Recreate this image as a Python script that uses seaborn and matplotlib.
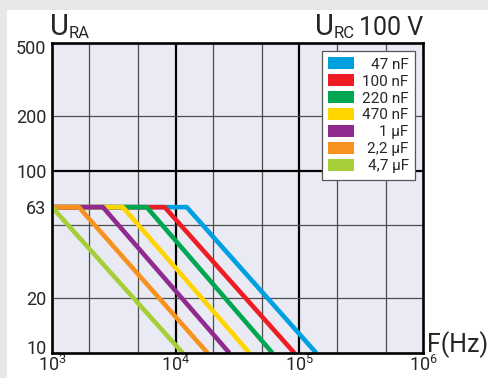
import matplotlib
matplotlib.use("Agg")
import numpy as np
import pandas as pd
import matplotlib.pyplot as plt
import seaborn as sns
from matplotlib.patches import Patch, Rectangle
from matplotlib.transforms import ScaledTranslation

# ---------------- data ----------------
capacitance = ["47 nF", "100 nF", "220 nF", "470 nF", "1 µF", "2,2 µF", "4,7 µF"]
start_hz = [1000, 1000, 1000, 1000, 1000, 1000, 1000]
corner_hz = [12300, 8150, 5840, 3740, 2580, 1650, 1000]
end_hz = [137000, 91200, 60600, 39500, 27200, 18100, 11400]
plateau_v = [63, 63, 63, 63, 63, 63, 63]
floor_v = [10, 10, 10, 10, 10, 10, 10]
colors = ["#00a0e0", "#ee1d24", "#00a650", "#ffd500", "#912a8e", "#f7921e", "#a6ce39"]

y_ticks = [500, 200, 100, 63, 20, 10]
y_ticklabels = ["500", "200", "100", "63", "20", "10"]
x_ticks = [1e3, 1e4, 1e5, 1e6]
x_ticklabels = [r"$\mathregular{10^{3}}$", r"$\mathregular{10^{4}}$",
                r"$\mathregular{10^{5}}$", r"$\mathregular{10^{6}}$"]
x_grid_thin = [2e3, 5e3, 2e4, 5e4, 2e5, 5e5]
x_grid_thick = [1e4, 1e5]
y_grid_thin = [200, 50, 20]
y_grid_thick = [100]

rows = []
for cap, s, c, e, p, f in zip(capacitance, start_hz, corner_hz, end_hz, plateau_v, floor_v):
    rows += [(cap, s, p), (cap, c, p), (cap, e, f)]
df = pd.DataFrame(rows, columns=["cap", "freq", "volt"])

# ---------------- style ----------------
sns.set_theme(style="white")
plt.rcParams["font.family"] = ["Roboto", "DejaVu Sans"]
plt.rcParams["mathtext.fontset"] = "custom"
plt.rcParams["mathtext.rm"] = "Roboto"

W, H = 489, 378
fig = plt.figure(figsize=(W / 100, H / 100), dpi=100)
fig.patch.set_facecolor("white")
gray = "#e6e7e9"
fig.patches.append(Rectangle((0, 1 - 10 / H), 1, 10 / H, transform=fig.transFigure,
                             facecolor=gray, edgecolor="none", zorder=-10))
fig.patches.append(Rectangle((0, 0), 7 / W, 1, transform=fig.transFigure,
                             facecolor=gray, edgecolor="none", zorder=-10))

ax = fig.add_axes([52 / W, 25 / H, 371 / W, 310 / H])
ax.set_facecolor("#eaeaf4")

sns.lineplot(data=df, x="freq", y="volt", hue="cap", hue_order=capacitance,
             palette=dict(zip(capacitance, colors)), estimator=None, sort=False,
             linewidth=3.3, legend=False, ax=ax, solid_capstyle="butt", zorder=3)

ax.set_xscale("log")
ax.set_yscale("log")
ax.set_xlim(1e3, 1e6)
ax.set_ylim(10, 500)

for v in x_grid_thin:
    ax.axvline(v, color="#4d4d4d", lw=0.9, zorder=1)
for v in x_grid_thick:
    ax.axvline(v, color="black", lw=1.6, zorder=1)
for v in y_grid_thin:
    ax.axhline(v, color="#4d4d4d", lw=0.9, zorder=1)
for v in y_grid_thick:
    ax.axhline(v, color="black", lw=1.6, zorder=1)

ax.set_xticks(x_ticks)
ax.set_xticklabels(x_ticklabels, fontsize=13)
ax.set_yticks(y_ticks)
ax.set_yticklabels(y_ticklabels, fontsize=13)
ax.minorticks_off()
ax.tick_params(axis="both", length=0)
ax.tick_params(axis="x", pad=1.5)
ax.tick_params(axis="y", pad=4)
ax.set_xlabel("")
ax.set_ylabel("")

for lbl in ax.get_yticklabels():
    if lbl.get_text() == "500":
        lbl.set_transform(lbl.get_transform() + ScaledTranslation(0, -4 / 100, fig.dpi_scale_trans))
    if lbl.get_text() == "10":
        lbl.set_transform(lbl.get_transform() + ScaledTranslation(0, 6 / 100, fig.dpi_scale_trans))

for sp in ax.spines.values():
    sp.set_visible(True)
    sp.set_color("black")
    sp.set_linewidth(1.9)
    sp.set_zorder(5)

# ---------------- texts ----------------
def px(x, y):
    return x / W, 1 - y / H

fig.text(*px(50, 35), "U", fontsize=21, va="baseline", ha="left")
fig.text(*px(69, 38), "RA", fontsize=12, va="baseline", ha="left")
fig.text(*px(315, 35), "U", fontsize=21, va="baseline", ha="left")
fig.text(*px(334, 38), "RC", fontsize=12, va="baseline", ha="left")
fig.text(*px(423, 35), "100 V", fontsize=18, va="baseline", ha="right")
fig.text(*px(427, 352), "F(Hz)", fontsize=18, va="baseline", ha="left")

# ---------------- legend ----------------
handles = [Patch(facecolor=c, edgecolor="none") for c in colors]
leg = ax.legend(handles, capacitance, loc="upper right",
                bbox_to_anchor=(0.978, 0.974), borderaxespad=0, fontsize=11,
                frameon=True, fancybox=False, framealpha=1, facecolor="white",
                edgecolor="#555555", handlelength=1.75, handleheight=0.85,
                handletextpad=0.5, labelspacing=0.17, borderpad=0.4)
leg.get_frame().set_linewidth(0.9)
leg.set_zorder(6)

# right-align legend labels
fig.canvas.draw()
renderer = fig.canvas.get_renderer()
row_boxes = [row for col in leg._legend_handle_box.get_children() for row in col.get_children()]
widths = [row.get_children()[1]._text.get_window_extent(renderer).width for row in row_boxes]
mw = max(widths)
for row, w in zip(row_boxes, widths):
    row.sep += (mw - w) * 72 / fig.dpi

fig.savefig("out.png", dpi=100, facecolor=fig.get_facecolor())
